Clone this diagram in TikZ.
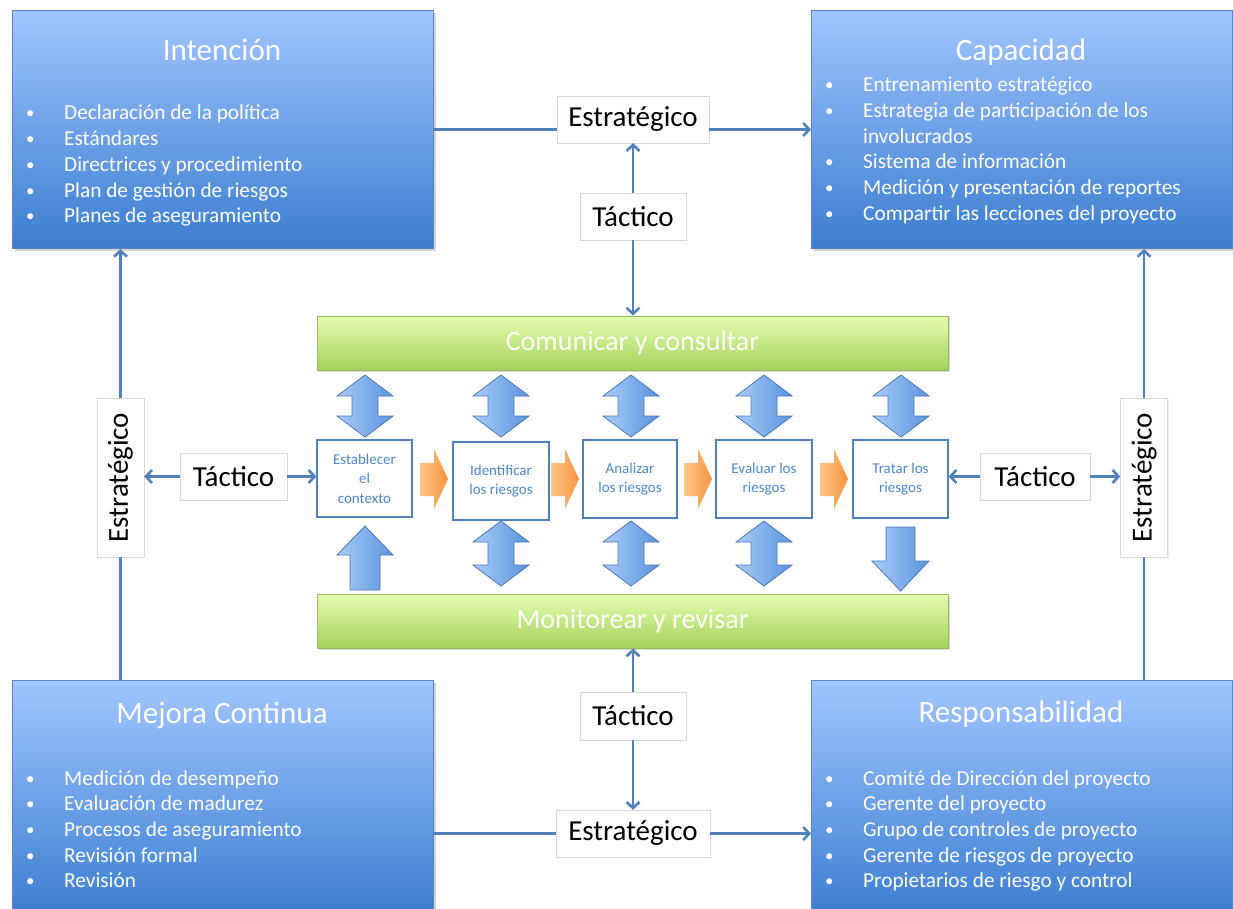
\documentclass[tikz,border=0pt]{standalone}
\usepackage{fontspec}
\setmainfont{Carlito}
\usetikzlibrary{arrows.meta,shadows,calc}

\definecolor{boxtop}{HTML}{A0C5FF}
\definecolor{boxbot}{HTML}{3C7DD0}
\definecolor{boxline}{HTML}{5A86C0}
\definecolor{grtop}{HTML}{E4FCB0}
\definecolor{grbot}{HTML}{A3D35A}
\definecolor{grline}{HTML}{98BC5C}
\definecolor{conncol}{HTML}{4F81BD}
\definecolor{proctext}{HTML}{4C88D2}
\definecolor{arrtop}{HTML}{AACCF8}
\definecolor{arrbot}{HTML}{5A93DE}
\definecolor{arrline}{HTML}{4677BA}
\definecolor{ortop}{HTML}{FFC585}
\definecolor{orbot}{HTML}{F7963F}

\tikzset{
  bluebox/.style={draw=boxline, line width=1pt, top color=boxtop, bottom color=boxbot,
    minimum width=421pt, anchor=north west, inner sep=0pt,
    drop shadow={shadow xshift=2pt, shadow yshift=-2pt, opacity=0.35}},
  boxtitle/.style={text=white, font=\fontsize{31}{34}\selectfont, inner sep=0pt},
  blist/.style={text=white, font=\fontsize{21.3}{25.7}\selectfont, align=left, anchor=north west, inner sep=0pt},
  greenbar/.style={draw=grline, line width=1pt, top color=grtop, bottom color=grbot,
    minimum width=631pt, minimum height=54pt, text=white, font=\fontsize{28}{32}\selectfont,
    drop shadow={shadow xshift=2pt, shadow yshift=-2pt, opacity=0.3}},
  procbox/.style={draw=conncol, line width=1.2pt, fill=white, text=proctext,
    font=\fontsize{15}{19.5}\selectfont, align=center, minimum width=95pt, minimum height=77pt, inner sep=1pt},
  lbl/.style={draw=black!15, fill=white, font=\fontsize{29}{32}\selectfont, inner sep=0pt,
    drop shadow={shadow xshift=1pt, shadow yshift=-1pt, opacity=0.15}},
  connline/.style={draw=conncol, line width=2.6pt},
  arr/.style={connline, -{Straight Barb[length=6pt,width=13pt]}},
}

\newcommand\bul{\makebox[38pt][l]{\raisebox{1pt}{\scalebox{0.8}{•}}}}

\newcommand\vdblarrow[3]{%
  \shadedraw[left color=arrtop, right color=arrbot, draw=arrline, line width=0.8pt]
  (#1,#2) -- ({#1+28},{#2+21}) -- ({#1+13},{#2+21}) -- ({#1+13},{#3-21}) -- ({#1+28},{#3-21})
  -- (#1,#3) -- ({#1-28},{#3-21}) -- ({#1-13},{#3-21}) -- ({#1-13},{#2+21}) -- ({#1-28},{#2+21}) -- cycle;}

\newcommand\orarrow[2]{%
  \shade[left color=ortop, right color=orbot]
  (#1,463) -- ({#2-14},463) -- ({#2-14},449) -- (#2,479) -- ({#2-14},509) -- ({#2-14},496) -- (#1,496) -- cycle;}

\begin{document}
\begin{tikzpicture}[x=1pt,y=-1pt]
\useasboundingbox (0,0) rectangle (1233,908);

% ---- corner boxes
\node[bluebox, minimum height=238pt] (int) at (12,10) {};
\node[boxtitle] (intT) at (222,50) {Intención};
\node[blist] (intL) at (26,105) {\bul Declaración de la política\\ \bul Estándares\\ \bul Directrices y procedimiento\\ \bul Plan de gestión de riesgos\\ \bul Planes de aseguramiento};

\node[bluebox, minimum height=238pt] (cap) at (811,10) {};
\node[boxtitle] (capT) at (1021,52) {Capacidad};
\node[blist] (capL) at (825,77) {\bul Entrenamiento estratégico\\ \bul Estrategia de participación de los\\ \hspace*{38pt}involucrados\\ \bul Sistema de información\\ \bul Medición y presentación de reportes\\ \bul Compartir las lecciones del proyecto};

\node[bluebox, minimum height=236pt] (mej) at (12,680) {};
\node[boxtitle] (mejT) at (222,715) {Mejora Continua};
\node[blist] (mejL) at (26,770) {\bul Medición de desempeño\\ \bul Evaluación de madurez\\ \bul Procesos de aseguramiento\\ \bul Revisión formal\\ \bul Revisión};

\node[bluebox, minimum height=236pt] (resp) at (811,680) {};
\node[boxtitle] (respT) at (1021,714) {Responsabilidad};
\node[blist] (respL) at (825,770) {\bul Comité de Dirección del proyecto\\ \bul Gerente del proyecto\\ \bul Grupo de controles de proyecto\\ \bul Gerente de riesgos de proyecto\\ \bul Propietarios de riesgo y control};

% ---- green bars
\node[greenbar] (com) at (632.5,343) {Comunicar y consultar};
\node[greenbar] (mon) at (632.5,621) {Monitorear y revisar};

% ---- process boxes
\node[procbox] (est) at (364.5,478.5) {Establecer\\el\\contexto};
\node[procbox, minimum width=96pt, minimum height=78pt] (ide) at (501,481) {Identificar\\los riesgos};
\node[procbox, minimum width=94pt, minimum height=78pt] (ana) at (630,479) {Analizar\\los riesgos};
\node[procbox, minimum width=96pt, minimum height=78pt] (eva) at (764,479) {Evaluar los\\riesgos};
\node[procbox, minimum height=78pt] (tra) at (900.5,479) {Tratar los\\riesgos};

% ---- block arrows
\vdblarrow{365}{375}{437}
\vdblarrow{501}{375}{437}
\vdblarrow{631}{375}{437}
\vdblarrow{764}{375}{437}
\vdblarrow{901}{375}{437}
\vdblarrow{501}{521}{586}
\vdblarrow{631}{521}{586}
\vdblarrow{764}{521}{586}
% single up arrow (establecer)
\shadedraw[left color=arrtop, right color=arrbot, draw=arrline, line width=0.8pt]
  (365,526) -- (393,555) -- (380,555) -- (380,590) -- (350,590) -- (350,555) -- (337,555) -- cycle;
% single down arrow (tratar)
\shadedraw[left color=arrtop, right color=arrbot, draw=arrline, line width=0.8pt]
  (886,527) -- (915,527) -- (915,561) -- (929,561) -- (900.5,591) -- (872,561) -- (886,561) -- cycle;

% orange arrows
\orarrow{420}{448}
\orarrow{551}{579}
\orarrow{684}{712}
\orarrow{820}{848}

% ---- labels
\node[lbl, minimum width=152pt, minimum height=47pt] (estrTop) at (633,119.5) {Estratégico};
\node[lbl, minimum width=106pt, minimum height=47pt] (tacTop) at (633,216.5) {Táctico};
\node[lbl, minimum width=106pt, minimum height=48pt] (tacBot) at (633,716) {Táctico};
\node[lbl, minimum width=154pt, minimum height=47pt] (estrBot) at (633,833.5) {Estratégico};
\node[lbl, minimum width=159pt, minimum height=47pt, rotate=90] (estrL) at (120.5,477.5) {Estratégico};
\node[lbl, minimum width=159pt, minimum height=47pt, rotate=90] (estrR) at (1144,477.5) {Estratégico};
\node[lbl, minimum width=107pt, minimum height=47pt] (tacL) at (233.5,476.5) {Táctico};
\node[lbl, minimum width=110pt, minimum height=47pt] (tacR) at (1035,476.5) {Táctico};

% ---- connectors
\draw[connline] (int.east) -- (int.east -| estrTop.west);
\draw[arr] (estrTop.east |- int.east) -- (cap.west);
\draw[arr] (tacTop.north) -- (estrTop.south -| tacTop.north);
\draw[arr] (tacTop.south) -- (com.north -| tacTop.south);
\draw[arr] (tacBot.north) -- (mon.south -| tacBot.north);
\draw[arr] (tacBot.south) -- (estrBot.north -| tacBot.south);
\draw[connline] (mej.east |- estrBot.west) -- (estrBot.west);
\draw[arr] (estrBot.east) -- (resp.west |- estrBot.east);

\draw[connline] (mej.north -| estrL.west) -- (estrL.west);
\draw[arr] (estrL.east) -- (int.south -| estrL.east);
\draw[arr] (tacL.west) -- (estrL.south |- tacL.west);
\draw[arr] (tacL.east) -- (est.west |- tacL.east);
\draw[arr] (tacR.west) -- (tra.east |- tacR.west);
\draw[arr] (tacR.east) -- (estrR.north |- tacR.east);
\draw[connline] (resp.north -| estrR.west) -- (estrR.west);
\draw[arr] (estrR.east) -- (cap.south -| estrR.east);
\end{tikzpicture}
\end{document}
